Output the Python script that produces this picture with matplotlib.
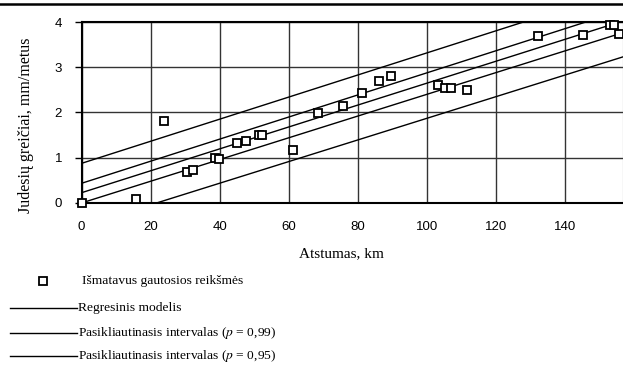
import numpy as np
import matplotlib.pyplot as plt
from matplotlib.lines import Line2D

# measured values: distance (km) vs. movement rate (mm/year)
atstumas = [0.0, 15.7, 24.0, 30.4, 32.3, 38.6, 39.8, 45.1, 47.6, 51.3, 52.2,
            61.3, 68.4, 75.8, 81.2, 86.2, 89.6, 103.3, 105.2, 107.0, 111.6,
            132.2, 145.4, 153.2, 154.4, 155.6]
greitis = [0.0, 0.08, 1.81, 0.69, 0.73, 0.99, 0.97, 1.33, 1.37, 1.51, 1.51,
           1.17, 1.98, 2.15, 2.44, 2.70, 2.81, 2.61, 2.55, 2.55, 2.50,
           3.68, 3.71, 3.94, 3.93, 3.73]

# fitted lines: intercept and slope of each
linijos = ["regresija", "p99_virs", "p95_virs", "p95_apac", "p99_apac"]
b0 = [0.227, 0.876, 0.435, 0.0, -0.52]
b1 = [0.0242, 0.0244, 0.0244, 0.0240, 0.0239]

x_ticks = [0, 20, 40, 60, 80, 100, 120, 140]
y_ticks = [0, 1, 2, 3, 4]

serif = "Liberation Serif"
sans = "Liberation Sans"
plt.rcParams["mathtext.fontset"] = "stix"

fig = plt.figure(figsize=(6.23, 3.67), dpi=100)
ax = fig.add_axes([0.131, 0.447, 0.8685, 0.493])

xs = np.linspace(0, 160, 200)
for a, b in zip(b0, b1):
    ax.plot(xs, a + b * xs, color="black", lw=1.0, zorder=3)

ax.plot(atstumas, greitis, ls="none", marker="s", markersize=6.2,
        markerfacecolor="white", markeredgecolor="black",
        markeredgewidth=1.3, zorder=4, clip_on=False)

ax.set_xlim(0, 156.8)
ax.set_ylim(0, 4)
ax.set_xticks(x_ticks)
ax.set_yticks(y_ticks)
ax.set_xticklabels([str(v) for v in x_ticks], fontsize=9.5, fontfamily=sans)
ax.set_yticklabels([str(v) for v in y_ticks], fontsize=9.5, fontfamily=sans)
ax.tick_params(axis="x", length=0, pad=13)
ax.tick_params(axis="y", length=5, width=1, pad=9, direction="out")

ax.grid(True, color="#333333", lw=1)
ax.set_axisbelow(True)
for s in ["left", "bottom", "top"]:
    ax.spines[s].set_linewidth(1.5)
ax.spines["right"].set_color("#777777")

ax.set_xlabel("Atstumas, km", fontsize=11, fontfamily=serif)
ax.xaxis.set_label_coords(0.48, -0.245)
ax.set_ylabel("Judesių greičiai, mm/metus", fontsize=11.5, fontfamily=serif)
ax.yaxis.set_label_coords(-0.088, 0.43)

# line across the top of the figure
fig.add_artist(Line2D([0, 1], [1 - 3.5 / 367, 1 - 3.5 / 367], color="black", lw=1.8))

# legend drawn below the chart
def fy(py):
    return 1 - py / 367

lx0, lx1, tx = 10 / 623, 77 / 623, 78.5 / 623
fig.add_artist(Line2D([43 / 623], [fy(281)], ls="none", marker="s", markersize=6.2,
                      markerfacecolor="white", markeredgecolor="black",
                      markeredgewidth=1.3))
fig.text(82.5 / 623, fy(281), "Išmatavus gautosios reikšmės", fontsize=9.7,
         fontfamily=serif, va="center")
legend_rows = [
    (307.5, "Regresinis modelis"),
    (333, "Pasikliautinasis intervalas ($\\it{p}$ = 0,99)"),
    (355.5, "Pasikliautinasis intervalas ($\\it{p}$ = 0,95)"),
]
for py, txt in legend_rows:
    fig.add_artist(Line2D([lx0, lx1], [fy(py), fy(py)], color="black", lw=1.0))
    fig.text(tx, fy(py), txt, fontsize=9.7, fontfamily=serif, va="center")

fig.savefig("out.png", dpi=100)
